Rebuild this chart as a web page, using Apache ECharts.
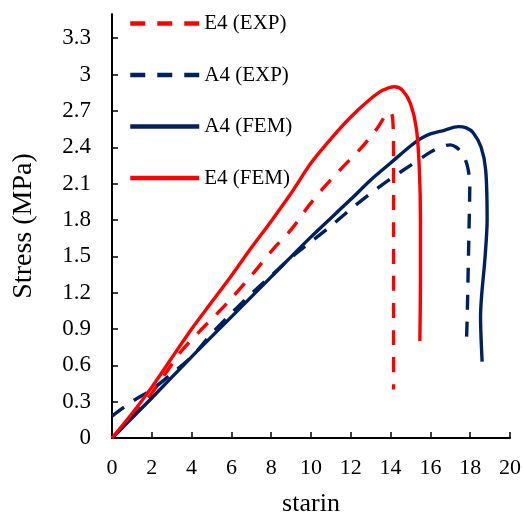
<!DOCTYPE html>
<html>
<head>
<meta charset="utf-8">
<script src="https://cdn.jsdelivr.net/npm/echarts@6/dist/echarts.min.js"></script>
<style>html,body{margin:0;padding:0;background:#fff}#c{width:524px;height:515px}</style>
</head>
<body>
<div id="c"></div>
<script>
var xTicks = [0, 2, 4, 6, 8, 10, 12, 14, 16, 18, 20];
var yTicks = [0, 0.3, 0.6, 0.9, 1.2, 1.5, 1.8, 2.1, 2.4, 2.7, 3, 3.3];

var e4Exp = [[0,0],[1,0.17],[2,0.37],[2.8,0.56],[3.5,0.72],[4.4,0.88],[5.3,1.03],[6.1,1.17],[7.1,1.36],[8.1,1.56],[9,1.72],[9.9,1.92],[10.6,2.06],[11.5,2.22],[12.5,2.39],[13.3,2.55],[13.95,2.69],[14.1,2.65],[14.15,2.3],[14.15,1.5],[14.15,0.4]];
var a4Exp = [[0,0.18],[1,0.3],[2,0.4],[3,0.53],[4,0.67],[5,0.86],[6,1.03],[7,1.19],[8,1.34],[9,1.49],[10,1.62],[11,1.75],[12,1.89],[13,2.02],[14,2.14],[15,2.25],[16,2.36],[16.5,2.4],[17,2.42],[17.3,2.4],[17.6,2.35],[17.85,2.25],[17.98,2.1],[17.95,1.8],[17.9,1.4],[17.85,1.0],[17.8,0.74]];
var a4Fem = [[0,0],[2,0.33],[4,0.67],[6,1.0],[8,1.33],[10,1.66],[12,1.97],[13,2.13],[14,2.27],[15,2.41],[15.5,2.47],[16,2.51],[16.7,2.54],[17.4,2.57],[17.8,2.56],[18.15,2.52],[18.55,2.4],[18.78,2.21],[18.85,1.8],[18.75,1.5],[18.52,1.0],[18.6,0.63]];
var e4Fem = [[0,0],[1,0.2],[2,0.42],[3,0.66],[4,0.9],[5,1.12],[6,1.34],[7,1.57],[8,1.79],[9,2.02],[10,2.27],[11,2.47],[12,2.65],[13,2.8],[13.6,2.87],[14.2,2.9],[14.6,2.87],[15,2.76],[15.3,2.55],[15.45,2.2],[15.5,1.8],[15.5,1.3],[15.47,0.8]];

var RED = '#FF0000', NAVY = '#002060';
var font = '"Liberation Serif", "Times New Roman", serif';

function mk(name, data, color, dashed) {
  return {
    name: name, type: 'line', data: data, showSymbol: false, symbol: 'none',
    smooth: 0.3, animation: false,
    lineStyle: { color: color, width: 3.4, type: dashed ? [15, 12] : 'solid' },
    itemStyle: { color: color }
  };
}

var chart = echarts.init(document.getElementById('c'), null, { renderer: 'canvas' });
chart.setOption({
  backgroundColor: '#fff',
  animation: false,
  grid: { left: 112, right: 14, top: 14, bottom: 77, containLabel: false, outerBoundsMode: 'none' },
  legend: {
    orient: 'vertical', left: 128, top: 13, padding: 0,
    itemWidth: 69, itemHeight: 14, itemGap: 30.5,
    data: ['E4 (EXP)', 'A4 (EXP)', 'A4 (FEM)', 'E4 (FEM)'],
    itemStyle: { opacity: 0 },
    lineStyle: { width: 4.5 },
    textStyle: { fontFamily: font, fontSize: 21, color: '#000' }
  },
  xAxis: {
    type: 'value', min: 0, max: 20, interval: 2,
    name: 'starin', nameLocation: 'middle', nameGap: 53,
    nameTextStyle: { fontFamily: font, fontSize: 26, color: '#000' },
    axisLine: { show: true, lineStyle: { color: '#000', width: 2 } },
    axisTick: { show: true, inside: true, length: 6, lineStyle: { color: '#000', width: 1.5 } },
    axisLabel: { fontFamily: font, fontSize: 22, color: '#000', margin: 19 },
    splitLine: { show: false }
  },
  yAxis: {
    type: 'value', min: 0, max: 3.5, interval: 0.1,
    name: 'Stress (MPa)', nameLocation: 'middle', nameGap: 74,
    nameTextStyle: { fontFamily: font, fontSize: 28, color: '#000' },
    axisLine: { show: true, lineStyle: { color: '#000', width: 2 } },
    axisTick: { show: true, inside: true, length: 6, customValues: yTicks, lineStyle: { color: '#000', width: 1.5 } },
    axisLabel: { fontFamily: font, fontSize: 23, color: '#000', margin: 21, customValues: yTicks,
      formatter: function (v) { return String(Math.round(v * 10) / 10); } },
    splitLine: { show: false }
  },
  series: [
    mk('E4 (EXP)', e4Exp, RED, true),
    mk('A4 (EXP)', a4Exp, NAVY, true),
    mk('A4 (FEM)', a4Fem, NAVY, false),
    mk('E4 (FEM)', e4Fem, RED, false)
  ]
});
</script>
</body>
</html>
